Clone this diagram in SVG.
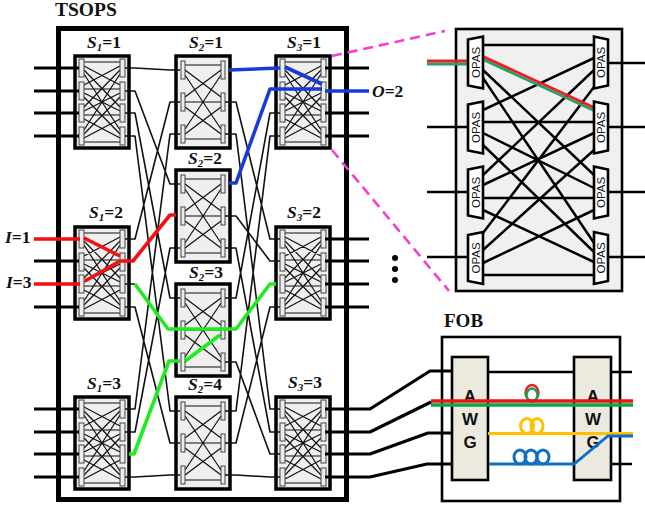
<svg xmlns="http://www.w3.org/2000/svg" xmlns:xlink="http://www.w3.org/1999/xlink" width="645" height="505" viewBox="0 0 645 505">
<style>
.box{fill:#efefef;stroke:#000;stroke-width:3.5}
.port{fill:#ececec;stroke:#444;stroke-width:1}
.mesh{fill:none;stroke:#111;stroke-width:1.2}
.link{fill:none;stroke:#111;stroke-width:1.6;stroke-linejoin:round}
.stub{fill:none;stroke:#000;stroke-width:3.2;stroke-linejoin:round}
.red{fill:none;stroke:#f50f12;stroke-width:3.6;stroke-linejoin:round}
.grn{fill:none;stroke:#1fec1f;stroke-width:3.6;stroke-linejoin:round}
.blu{fill:none;stroke:#1a3ad8;stroke-width:3.6;stroke-linejoin:round}
.mag{fill:none;stroke:#f43fd0;stroke-width:2.6;stroke-dasharray:10 6}
.lab{font-family:"Liberation Serif",serif;font-size:17.5px;font-weight:bold;fill:#111}
.it{font-style:italic}
.sub{font-style:italic;font-size:11px}
.title{font-family:"Liberation Serif",serif;font-size:19.5px;font-weight:bold;fill:#111}
.opas{fill:#fff;stroke:#000;stroke-width:2.6}
.opt{font-family:"Liberation Sans",sans-serif;font-size:11.5px;fill:#111;text-anchor:middle}
.ol{fill:none;stroke:#000;stroke-width:2.5}
.awg{fill:#ece9df;stroke:#000;stroke-width:2.6}
.awt{font-family:"Liberation Sans",sans-serif;font-size:17px;font-weight:bold;fill:#111;text-anchor:middle}
</style>
<defs>
<g id="sw4">
<rect class="box" x="0" y="0" width="54" height="92"/>
<path class="mesh" d="M9 6H45M9 10L45 29M9 14L45 51M9 18L45 74M9 29L45 10M9 33H45M9 37L45 55M9 41L45 78M9 51L45 14M9 55L45 37M9 59H45M9 63L45 82M9 74L45 18M9 78L45 41M9 82L45 63M9 86H45"/>
<g class="port"><rect x="4" y="3" width="5" height="18"/><rect x="4" y="26" width="5" height="18"/><rect x="4" y="48" width="5" height="18"/><rect x="4" y="71" width="5" height="18"/><rect x="45" y="3" width="5" height="18"/><rect x="45" y="26" width="5" height="18"/><rect x="45" y="48" width="5" height="18"/><rect x="45" y="71" width="5" height="18"/></g>
</g>
<g id="sw3">
<rect class="box" x="0" y="0" width="54" height="92"/>
<path class="mesh" d="M9 9H45M9 14L45 41M9 19L45 73M9 41L45 14M9 46H45M9 51L45 78M9 73L45 19M9 78L45 51M9 83H45"/>
<g class="port"><rect x="5" y="5" width="4" height="18"/><rect x="5" y="37" width="4" height="18"/><rect x="5" y="69" width="4" height="18"/><rect x="45" y="5" width="4" height="18"/><rect x="45" y="37" width="4" height="18"/><rect x="45" y="69" width="4" height="18"/></g>
</g>
<polygon id="tl" class="opas" points="468,-23 483,-26 483,26 468,23"/>
<polygon id="tr" class="opas" points="608,-23 594,-26 594,26 608,23"/>
</defs>

<g id="tsops">
<rect x="58.500" y="28.500" width="288" height="471" fill="#fff" stroke="#000" stroke-width="5"/>
<text class="title" x="55" y="16">TSOPS</text>
</g>

<g id="s1-1"><use href="#sw4" x="75" y="56"/><text class="lab" x="87" y="48"><tspan class="it">S</tspan><tspan class="sub" dy="3">1</tspan><tspan dy="-3">=1</tspan></text></g>
<g id="s1-2"><use href="#sw4" x="75" y="227"/><text class="lab" x="89" y="218"><tspan class="it">S</tspan><tspan class="sub" dy="3">1</tspan><tspan dy="-3">=2</tspan></text></g>
<g id="s1-3"><use href="#sw4" x="75" y="397"/><text class="lab" x="87" y="389"><tspan class="it">S</tspan><tspan class="sub" dy="3">1</tspan><tspan dy="-3">=3</tspan></text></g>
<g id="s2-1"><use href="#sw3" x="176" y="56"/><text class="lab" x="189" y="48"><tspan class="it">S</tspan><tspan class="sub" dy="3">2</tspan><tspan dy="-3">=1</tspan></text></g>
<g id="s2-2"><use href="#sw3" x="176" y="170"/><text class="lab" x="188" y="164"><tspan class="it">S</tspan><tspan class="sub" dy="3">2</tspan><tspan dy="-3">=2</tspan></text></g>
<g id="s2-3"><use href="#sw3" x="176" y="284"/><text class="lab" x="189" y="278"><tspan class="it">S</tspan><tspan class="sub" dy="3">2</tspan><tspan dy="-3">=3</tspan></text></g>
<g id="s2-4"><use href="#sw3" x="176" y="397"/><text class="lab" x="188" y="390"><tspan class="it">S</tspan><tspan class="sub" dy="3">2</tspan><tspan dy="-3">=4</tspan></text></g>
<g id="s3-1"><use href="#sw4" x="276" y="56"/><text class="lab" x="287" y="48"><tspan class="it">S</tspan><tspan class="sub" dy="3">3</tspan><tspan dy="-3">=1</tspan></text></g>
<g id="s3-2"><use href="#sw4" x="276" y="227"/><text class="lab" x="287" y="218"><tspan class="it">S</tspan><tspan class="sub" dy="3">3</tspan><tspan dy="-3">=2</tspan></text></g>
<g id="s3-3"><use href="#sw4" x="276" y="397"/><text class="lab" x="288" y="388"><tspan class="it">S</tspan><tspan class="sub" dy="3">3</tspan><tspan dy="-3">=3</tspan></text></g>

<g id="opas-switch">
<rect x="456" y="29" width="166" height="262" fill="#f0f0f0" stroke="#000" stroke-width="2.6"/>
<path class="ol" d="M483 45H594M483 122H594M483 198H594M483 275H594M483 70L594 175M483 78L594 243M483 110L594 58M483 133L594 188M483 145L594 252M483 175L594 70M483 185L594 133M483 210L594 262M483 233L594 87M483 250L594 150M483 263L594 210"/>
<path class="ol" d="M427 127H468M427 192H468M427 257H468M608 63H645M608 127H645M608 192H645M608 257H645"/>
<path d="M427 64H468M483 59.500L594 110.500" fill="none" stroke="#1fa366" stroke-width="2.8"/>
<path d="M427 61H468M483 56.500L594 107.500" fill="none" stroke="#ee1c25" stroke-width="2.8"/>
<use href="#tl" y="62.500"/><use href="#tl" y="127.500"/><use href="#tl" y="192.500"/><use href="#tl" y="258"/>
<use href="#tr" y="62.500"/><use href="#tr" y="127.500"/><use href="#tr" y="192.500"/><use href="#tr" y="258"/>
<text class="opt" transform="translate(480 62.500) rotate(-90)">OPAS</text>
<text class="opt" transform="translate(480 127.500) rotate(-90)">OPAS</text>
<text class="opt" transform="translate(480 192.500) rotate(-90)">OPAS</text>
<text class="opt" transform="translate(480 258) rotate(-90)">OPAS</text>
<text class="opt" transform="translate(605 62.500) rotate(-90)">OPAS</text>
<text class="opt" transform="translate(605 127.500) rotate(-90)">OPAS</text>
<text class="opt" transform="translate(605 192.500) rotate(-90)">OPAS</text>
<text class="opt" transform="translate(605 258) rotate(-90)">OPAS</text>
</g>

<g id="fob">
<text class="title" x="444" y="327" style="font-size:19px">FOB</text>
<rect x="442" y="337" width="178" height="164" fill="#fff" stroke="#000" stroke-width="2.6"/>
<path class="ol" d="M489 372H574M611 372H632M611 464H632"/>
<rect class="awg" x="452" y="357" width="36" height="123"/>
<rect class="awg" x="574" y="357" width="37" height="123"/>
<text class="awt" x="470" y="402">A</text><text class="awt" x="470" y="425">W</text><text class="awt" x="470" y="448">G</text>
<text class="awt" x="593" y="402">A</text><text class="awt" x="593" y="425">W</text><text class="awt" x="593" y="448">G</text>
<ellipse cx="532" cy="393" rx="6.500" ry="8" fill="none" stroke="#ee1c25" stroke-width="2.4"/>
<ellipse cx="532" cy="395" rx="5.500" ry="6.500" fill="none" stroke="#0aa64b" stroke-width="2.4"/>
<g fill="none" stroke="#ffc000" stroke-width="3"><ellipse cx="527" cy="426" rx="6.500" ry="7.500"/><ellipse cx="537" cy="426" rx="6" ry="7.500"/></g>
<g fill="none" stroke="#0f6fc6" stroke-width="3"><ellipse cx="520" cy="457" rx="6" ry="7"/><ellipse cx="531" cy="457" rx="6" ry="7"/><ellipse cx="543" cy="457" rx="6" ry="7"/></g>
<path d="M488 433.500H633" fill="none" stroke="#ffc000" stroke-width="3"/>
<path d="M489 464H574L608 436H633" fill="none" stroke="#0f6fc6" stroke-width="2.800"/>
<path d="M431 405H633" fill="none" stroke="#0aa64b" stroke-width="3.400"/>
<path d="M431 401H633" fill="none" stroke="#ee1212" stroke-width="3.400"/>
</g>

<g id="dots" fill="#000"><circle cx="395" cy="258" r="3"/><circle cx="395" cy="269" r="3"/><circle cx="395" cy="280" r="3"/></g>

<g id="connectors">
<path class="link" d="M125 68L135 68L170 70L180 70M125 91H135L170 184H180M125 113H135L170 298H180M125 136H135L170 411H180M125 239H135L170 102H180M125 284H135M125 307H135L170 443H180M125 409H135L170 134H180M125 432H135L170 248H180M125 477H135L170 475H180"/>
<path class="link" d="M225 102H236L270 239H280M225 134H236L270 409H280M225 248H236L270 432H280M225 298H236L270 113H280M225 362H236L270 454H280M225 411H236L270 136H280M225 443H236L270 307H280M225 475H236L270 477H280M225 216H236L270 261H280"/>
<path class="stub" d="M34 68H79M34 91H79M34 113H79M34 136H79M34 261H79M34 307H79M34 409H79M34 432H79M34 454H79M34 477H79"/>
<path class="stub" d="M325 68H369M325 113H369M325 136H369M325 239H369M325 261H369M325 284H369M325 307H369"/>
<path class="stub" d="M325 409H370L430 371H452M325 432H370L431 402M325 454H370L428 433H452M325 477H370L427 464H452"/>
<path class="red" d="M34 239H80M84 238L120 256M34 284H80M85 281L120 261M120 261H133L170 215H176"/>
<path class="grn" d="M135 284L168 329H220H236L270 284H276M129 454H134L169 361H180M185 361L220 335"/>
<path class="blu" d="M229 70L280 68M285 67L322 84M229 183H236L270 89H322M325 91H369"/>
<path class="mag" d="M332 56L445 31M332 150L449 291"/>
</g>

<g id="labels">
<text class="lab" x="5" y="243"><tspan class="it">I</tspan>=1</text>
<text class="lab" x="6" y="288"><tspan class="it">I</tspan>=3</text>
<text class="lab" x="372" y="97"><tspan class="it">O</tspan>=2</text>
</g>
</svg>
